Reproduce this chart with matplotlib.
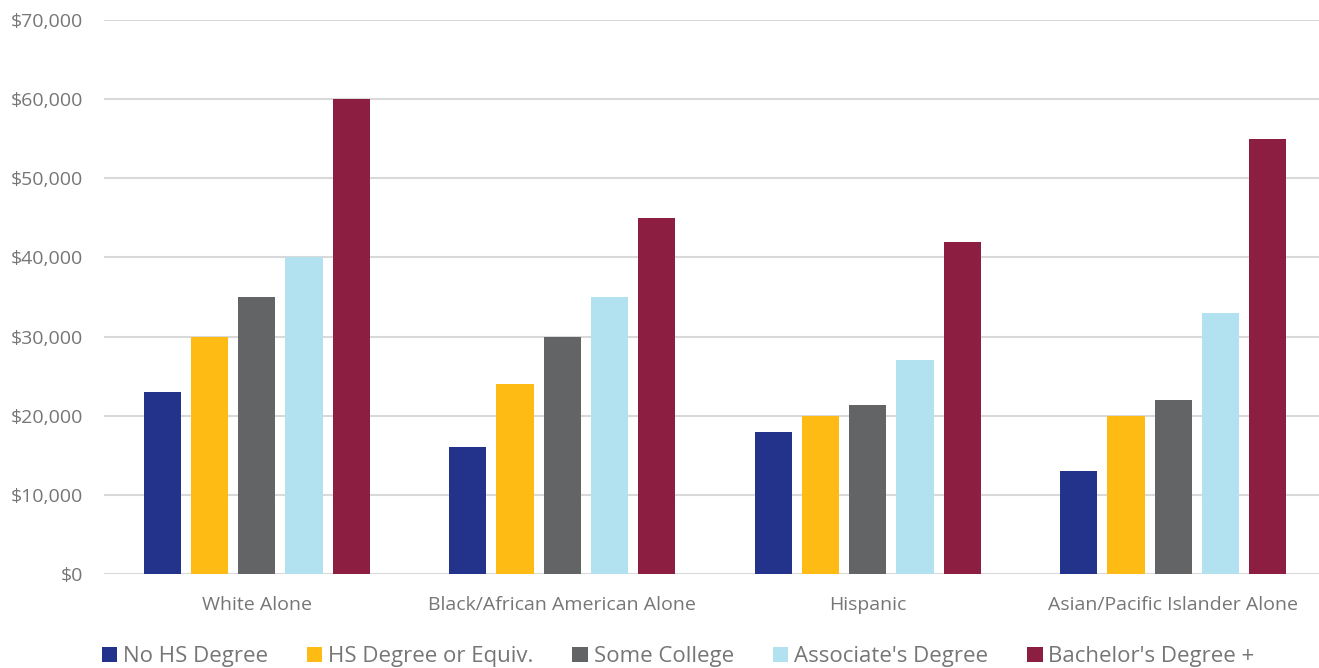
import matplotlib.pyplot as plt
import numpy as np
from matplotlib.ticker import FuncFormatter

# data
groups = ['White Alone', 'Black/African American Alone', 'Hispanic',
          'Asian/Pacific Islander Alone']
series = ['No HS Degree', 'HS Degree or Equiv.', 'Some College',
          "Associate's Degree", "Bachelor's Degree +"]
no_hs = [23000, 16000, 18000, 13000]
hs_equiv = [30000, 24000, 20000, 20000]
some_college = [35000, 30000, 21300, 22000]
associate = [40000, 35000, 27000, 33000]
bachelor = [60000, 45000, 42000, 55000]
colors = ['#23338C', '#FDBB13', '#636466', '#B2E1EF', '#8B1E41']

values = [no_hs, hs_equiv, some_college, associate, bachelor]

plt.rcParams['font.family'] = ['Open Sans', 'DejaVu Sans']

fig = plt.figure(figsize=(13.19, 6.68), dpi=100)
# axes runs a little past the right edge, like the original
ax = fig.add_axes([104 / 1319, 1 - 574 / 668, (1326 - 104) / 1319, (574 - 20) / 668])

x = np.arange(len(groups))
step = 0.1546
width = 0.122
for i, (name, vals) in enumerate(zip(series, values)):
    ax.bar(x + (i - 2) * step, vals, width, color=colors[i], label=name, zorder=3)

ax.set_xlim(-0.5, 3.5)
ax.set_ylim(0, 70000)
ax.set_yticks(np.arange(0, 70001, 10000))
ax.yaxis.set_major_formatter(FuncFormatter(lambda v, p: '${:,.0f}'.format(v)))
ax.set_xticks(x)
ax.set_xticklabels(groups)
ax.grid(axis='y', color='#D9D9D9', linewidth=1.5, zorder=0)
for s in ax.spines.values():
    s.set_visible(False)
ax.tick_params(axis='y', length=0, pad=15, labelsize=14, labelcolor='#767676')
ax.tick_params(axis='x', length=0, pad=16, labelsize=14, labelcolor='#767676')

leg = fig.legend(loc='lower center', bbox_to_anchor=(0.514, -0.029), ncol=5,
                 frameon=False, fontsize=16, handlelength=0.7, handleheight=0.7,
                 handletextpad=0.25, columnspacing=1.76)
for t in leg.get_texts():
    t.set_color('#767676')

fig.savefig('out.png', dpi=100)
